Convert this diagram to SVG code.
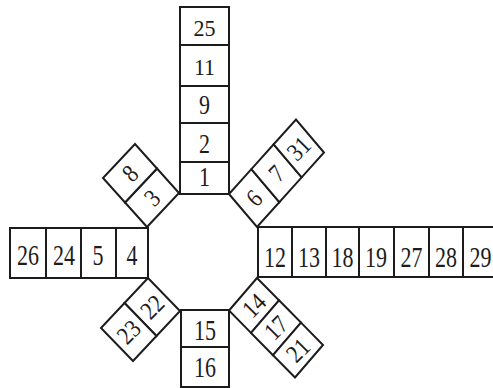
<svg xmlns="http://www.w3.org/2000/svg" width="493" height="388" viewBox="0 0 493 388">
<style>
.box{fill:#fff;stroke:#1c1c1c;stroke-width:2;stroke-linejoin:miter}
.lbl{font-family:"Liberation Serif","Times New Roman",serif;font-size:22px;fill:#1c1c1c;text-anchor:middle}
</style>
<rect width="493" height="388" fill="#fff"/>
<g id="top-column">
<g id="n25"><rect class="box" x="180" y="7" width="49" height="38"/><text class="lbl" transform="translate(204.5,28) scale(1,1.03)" y="7.4">25</text></g>
<g id="n11"><rect class="box" x="180" y="45" width="49" height="41"/><text class="lbl" transform="translate(204.5,67.5) scale(1,1.03)" y="7.4">11</text></g>
<g id="n9"><rect class="box" x="180" y="86" width="49" height="37"/><text class="lbl" transform="translate(204.5,105.5) scale(1,1.2)" y="7.4">9</text></g>
<g id="n2"><rect class="box" x="180" y="123" width="49" height="39"/><text class="lbl" transform="translate(204.5,144) scale(1,1.2)" y="7.4">2</text></g>
<g id="n1"><rect class="box" x="180" y="162" width="49" height="32"/><text class="lbl" transform="translate(204.5,177) scale(1,1.2)" y="7.4">1</text></g>
</g>
<g id="left-arm">
<g id="n26"><rect class="box" x="10" y="228" width="36" height="50"/><text class="lbl" transform="translate(28,255) scale(1,1.35)" y="7.4">26</text></g>
<g id="n24"><rect class="box" x="46" y="228" width="35" height="50"/><text class="lbl" transform="translate(64,255) scale(1,1.35)" y="7.4">24</text></g>
<g id="n5"><rect class="box" x="81" y="228" width="35" height="50"/><text class="lbl" transform="translate(98,255) scale(1,1.35)" y="7.4">5</text></g>
<g id="n4"><rect class="box" x="116" y="228" width="32" height="50"/><text class="lbl" transform="translate(132,255) scale(1,1.35)" y="7.4">4</text></g>
</g>
<g id="right-arm">
<g id="n12"><rect class="box" x="258" y="227" width="34" height="50"/><text class="lbl" transform="translate(275,256.7) scale(1,1.35)" y="7.4">12</text></g>
<g id="n13"><rect class="box" x="292" y="227" width="34" height="50"/><text class="lbl" transform="translate(309,256.7) scale(1,1.35)" y="7.4">13</text></g>
<g id="n18"><rect class="box" x="326" y="227" width="33" height="50"/><text class="lbl" transform="translate(342.5,256.7) scale(1,1.35)" y="7.4">18</text></g>
<g id="n19"><rect class="box" x="359" y="227" width="35" height="50"/><text class="lbl" transform="translate(376,256.7) scale(1,1.35)" y="7.4">19</text></g>
<g id="n27"><rect class="box" x="394" y="227" width="35" height="50"/><text class="lbl" transform="translate(411.5,256.7) scale(1,1.35)" y="7.4">27</text></g>
<g id="n28"><rect class="box" x="429" y="227" width="34" height="50"/><text class="lbl" transform="translate(446,256.7) scale(1,1.35)" y="7.4">28</text></g>
<g id="n29"><rect class="box" x="463" y="227" width="38" height="50"/><text class="lbl" transform="translate(480.5,256.7) scale(1,1.35)" y="7.4">29</text></g>
</g>
<g id="bottom-column">
<g id="n15"><rect class="box" x="181" y="310" width="48" height="37"/><text class="lbl" transform="translate(205,330) scale(1,1.35)" y="7.4">15</text></g>
<g id="n16"><rect class="box" x="181" y="347" width="48" height="40"/><text class="lbl" transform="translate(205,367) scale(1,1.35)" y="7.4">16</text></g>
</g>
<g id="upper-left-arm">
<g id="n3"><polygon class="box" points="147,227 179,193 157,168.5 125,202.5"/><text class="lbl" transform="translate(152,197.75) rotate(-45) scale(1,1.15)" y="7.4">3</text></g>
<g id="n8"><polygon class="box" points="125,202.5 157,168.5 135,144 103,178"/><text class="lbl" transform="translate(130,173.25) rotate(-45) scale(1,1.15)" y="7.4">8</text></g>
</g>
<g id="upper-right-arm">
<g id="n6"><polygon class="box" points="229,194 257,227 279.33,202.17 251.33,169.17"/><text class="lbl" transform="translate(254.2,198.1) rotate(-45) scale(1,1.15)" y="7.4">6</text></g>
<g id="n7"><polygon class="box" points="251.33,169.17 279.33,202.17 301.67,177.33 273.67,144.33"/><text class="lbl" transform="translate(276.5,173.25) rotate(-45) scale(1,1.15)" y="7.4">7</text></g>
<g id="n31"><polygon class="box" points="273.67,144.33 301.67,177.33 324,152.5 296,119.5"/><text class="lbl" transform="translate(298.8,148.4) rotate(-45) scale(1,1.15)" y="7.4">31</text></g>
</g>
<g id="lower-left-arm">
<g id="n22"><polygon class="box" points="148,278 180,311 156.5,336 124.5,303"/><text class="lbl" transform="translate(152.25,307) rotate(-45) scale(1,1.15)" y="7.4">22</text></g>
<g id="n23"><polygon class="box" points="124.5,303 156.5,336 133,361 101,328"/><text class="lbl" transform="translate(128.75,332) rotate(-45) scale(1,1.15)" y="7.4">23</text></g>
</g>
<g id="lower-right-arm">
<g id="n14"><polygon class="box" points="257,278 229,310.5 251,332.83 279,300.33"/><text class="lbl" transform="translate(254,305.4) rotate(-45) scale(1,1.15)" y="7.4">14</text></g>
<g id="n17"><polygon class="box" points="279,300.33 251,332.83 273,355.17 301,322.67"/><text class="lbl" transform="translate(276,327.75) rotate(-45) scale(1,1.15)" y="7.4">17</text></g>
<g id="n21"><polygon class="box" points="301,322.67 273,355.17 295,377.5 323,345"/><text class="lbl" transform="translate(298,350.1) rotate(-45) scale(1,1.15)" y="7.4">21</text></g>
</g>
<g id="connectors"></g>
</svg>
